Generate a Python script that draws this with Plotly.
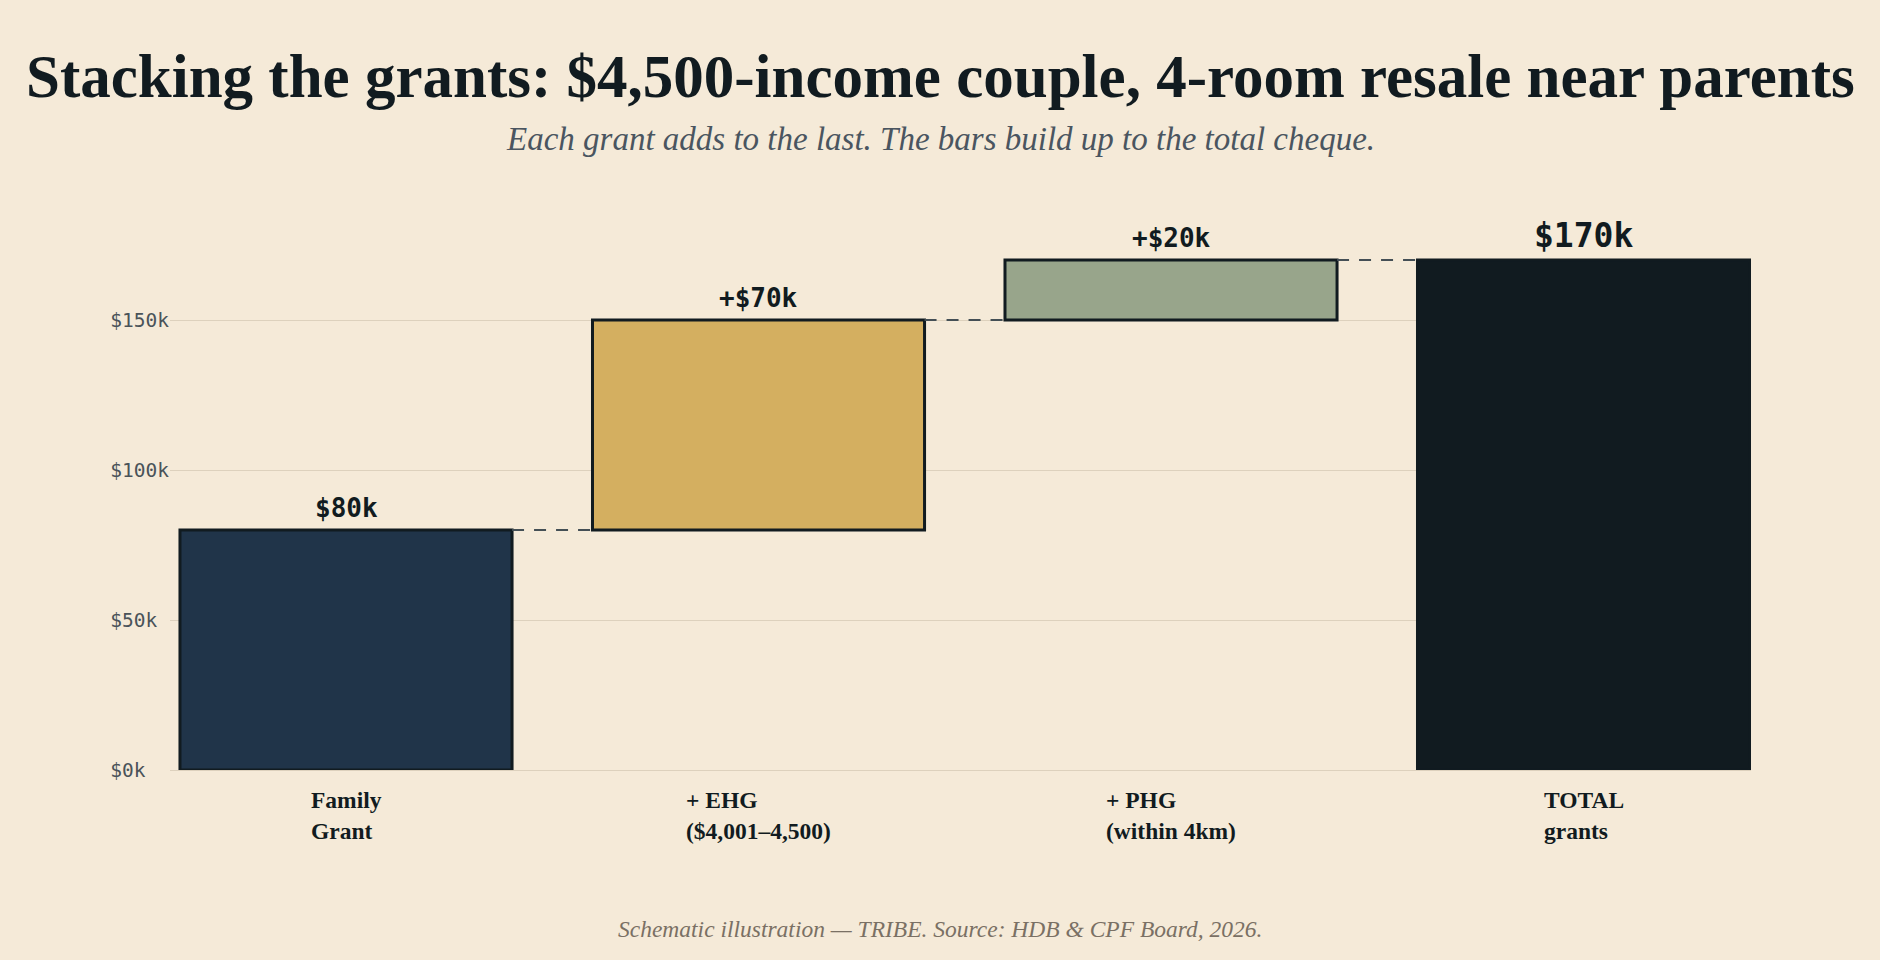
import plotly.graph_objects as go

# ---- data ----
categories = ["Family Grant", "+ EHG ($4,001–4,500)", "+ PHG (within 4km)", "TOTAL grants"]
category_labels = ["Family<br>Grant", "+ EHG<br>($4,001–4,500)", "+ PHG<br>(within 4km)", "TOTAL<br>grants"]
increments = [80000, 70000, 20000]          # each grant
total_value = 170000                        # total cheque
value_labels = ["$80k", "+$70k", "+$20k", "$170k"]
y_tick_values = [0, 50000, 100000, 150000]
y_tick_labels = ["$0k", "$50k", "$100k", "$150k"]

# ---- styles ----
BG = "#f5ead8"
INK = "#111b20"
bar_colors = ["#203449", "#d4af60", "#98a58b", "#111b20"]
SERIF = "Liberation Serif"
MONO = "DejaVu Sans Mono"
BAR_W = 0.805
ML, MR, MT, MB = 170, 129, 230, 190
W, H = 1880, 960
PLOT_W = W - ML - MR
PLOT_H = H - MT - MB
PAGE_CX = (W / 2 - ML) / PLOT_W      # page centre in paper coords


def py(pix):
    """page pixel row -> paper y"""
    return (H - MB - pix) / PLOT_H


# waterfall bases / tops from the data
bases, tops = [], []
running = 0
for v in increments:
    bases.append(running)
    running += v
    tops.append(running)
bases.append(0)
tops.append(total_value)
heights = [t - b for t, b in zip(tops, bases)]

fig = go.Figure()
fig.add_trace(go.Bar(
    x=categories, y=heights, base=bases, width=BAR_W,
    marker=dict(color=bar_colors,
                line=dict(color=[INK, INK, INK, bar_colors[3]], width=3)),
    hoverinfo="skip", showlegend=False,
))

# dashed connectors between consecutive bars
for i in range(len(categories) - 1):
    fig.add_shape(type="line", xref="x", yref="y",
                  x0=i + BAR_W / 2, x1=i + 1 - BAR_W / 2, y0=tops[i], y1=tops[i],
                  line=dict(color="#444f55", width=2, dash="12px,10px"), layer="above")

# value labels
for i, (c, lab) in enumerate(zip(categories, value_labels)):
    big = i == len(categories) - 1
    fig.add_annotation(x=c, y=tops[i], xref="x", yref="y", text=f"<b>{lab}</b>",
                       showarrow=False, yanchor="bottom", yshift=3 if big else 5,
                       font=dict(family=MONO, size=33 if big else 26, color=INK))

# category labels (left-aligned lines, centered block)
for c, lab in zip(categories, category_labels):
    fig.add_annotation(x=c, y=0, xref="x", yref="paper", text=f"<b>{lab}</b>",
                       showarrow=False, yanchor="top", xanchor="center", align="left",
                       yshift=-15, font=dict(family=SERIF, size=23.5, color=INK))

# title, subtitle, footer
fig.add_annotation(x=PAGE_CX, y=py(77), xref="paper", yref="paper",
                   text="<b>Stacking the grants: $4,500-income couple, 4-room resale near parents</b>",
                   showarrow=False, xanchor="center", yanchor="middle",
                   font=dict(family=SERIF, size=61, color=INK))
fig.add_annotation(x=PAGE_CX, y=py(139), xref="paper", yref="paper",
                   text="<i>Each grant adds to the last. The bars build up to the total cheque.</i>",
                   showarrow=False, xanchor="center", yanchor="middle",
                   font=dict(family=SERIF, size=33, color="#4a5560"))
fig.add_annotation(x=PAGE_CX, y=py(929), xref="paper", yref="paper",
                   text="<i>Schematic illustration — TRIBE. Source: HDB &amp; CPF Board, 2026.</i>",
                   showarrow=False, xanchor="center", yanchor="middle",
                   font=dict(family=SERIF, size=23.5, color="#7a7064"))

# monospace tick labels padded so they line up on the left
width = max(len(t) for t in y_tick_labels)
padded = [t + "\u00a0" * (width - len(t)) for t in y_tick_labels]

fig.update_layout(
    width=W, height=H,
    margin=dict(l=ML, r=MR, t=MT, b=MB, pad=0),
    paper_bgcolor=BG, plot_bgcolor=BG,
    bargap=0.2,
    xaxis=dict(type="category", range=[-0.4267, 3.406], showticklabels=False,
               showgrid=False, zeroline=False, showline=False, ticks=""),
    yaxis=dict(range=[0, 180000], tickvals=y_tick_values, ticktext=padded,
               showgrid=True, gridcolor="#ddd1bd", gridwidth=1,
               zeroline=True, zerolinecolor="#ddd1bd", zerolinewidth=1,
               showline=False, ticks="",
               tickfont=dict(family=MONO, size=19.5, color="#4a5359")),
)

fig.write_html("out.html")
